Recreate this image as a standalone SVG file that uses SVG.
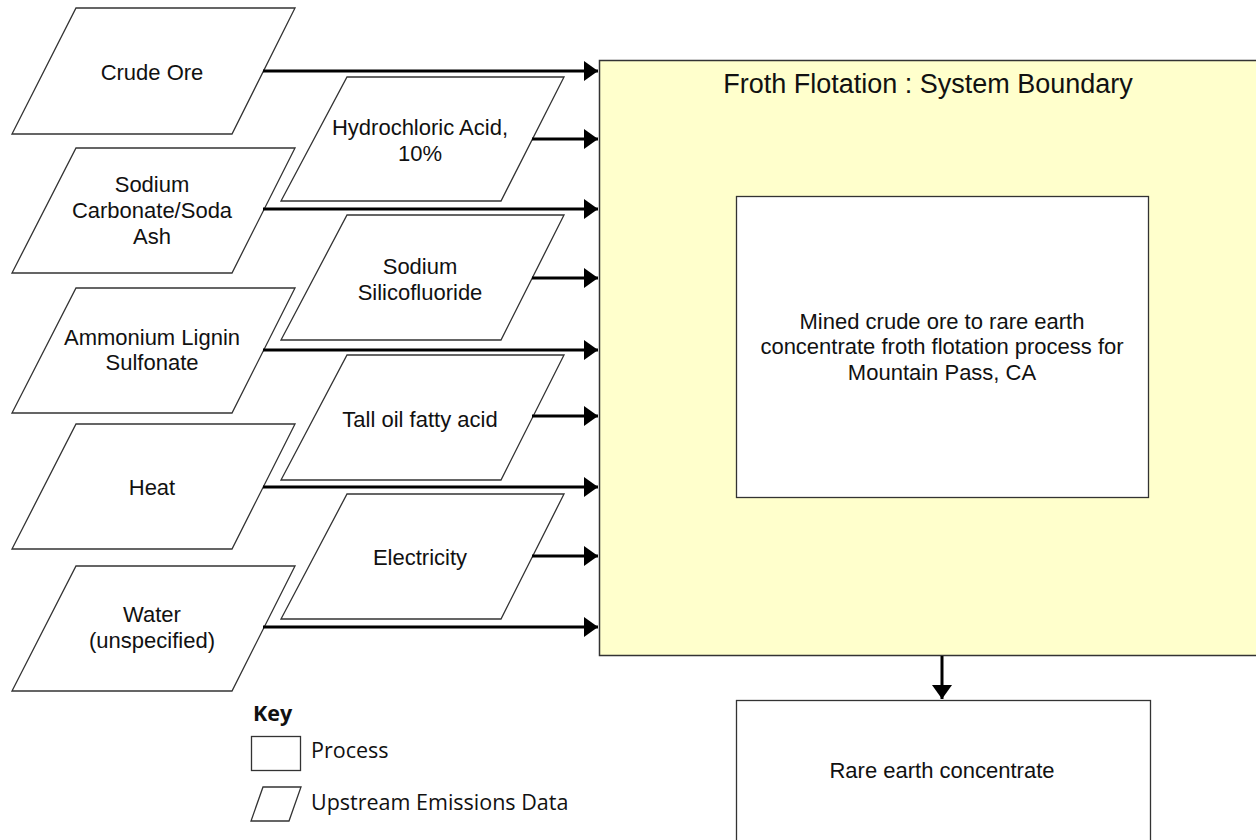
<svg xmlns="http://www.w3.org/2000/svg" width="1256" height="840" viewBox="0 0 1256 840">
<style>
.pg{fill:#fff;stroke:#333;stroke-width:1.3}
.bx{fill:#fff;stroke:#333;stroke-width:1.3}
.t{font-family:"Liberation Sans",Arial,sans-serif;font-size:22px;fill:#111;text-anchor:middle}
.title{font-family:"Liberation Sans",Arial,sans-serif;font-size:27px;fill:#111;text-anchor:middle}
.k{font-family:"Open Sans","Liberation Sans",sans-serif;font-size:21.5px;fill:#111}
.ar{stroke:#000;stroke-width:3;fill:none;marker-end:url(#ah)}
</style>
<defs>
<marker id="ah" markerUnits="userSpaceOnUse" markerWidth="14" markerHeight="20" refX="14" refY="10" orient="auto">
<path d="M0,0 L14,10 L0,20 Z" fill="#000"/>
</marker>
</defs>
<rect width="1256" height="840" fill="#fff"/>

<g id="boundary">
<rect x="599.5" y="60.5" width="700" height="595" fill="#ffffcc" stroke="#333" stroke-width="1.5"/>
<text class="title" x="928" y="93">Froth Flotation : System Boundary</text>
</g>

<g id="process">
<rect class="bx" x="736.5" y="196.5" width="412" height="301"/>
<text class="t" x="942" y="329">Mined crude ore to rare earth</text>
<text class="t" x="942" y="354">concentrate froth flotation process for</text>
<text class="t" x="942" y="380">Mountain Pass, CA</text>
</g>

<g id="product">
<rect class="bx" x="736.5" y="700.5" width="414" height="145"/>
<text class="t" x="942" y="778">Rare earth concentrate</text>
</g>

<g id="crude-ore">
<polygon class="pg" points="76,8 295,8 232,134 12,134"/>
<text class="t" x="152" y="80">Crude Ore</text>
</g>
<g id="sodium-carbonate">
<polygon class="pg" points="76,148 295,148 232,273 12,273"/>
<text class="t" x="152" y="192">Sodium</text>
<text class="t" x="152" y="218">Carbonate/Soda</text>
<text class="t" x="152" y="244">Ash</text>
</g>
<g id="ammonium">
<polygon class="pg" points="76,288 295,288 232,413 12,413"/>
<text class="t" x="152" y="345">Ammonium Lignin</text>
<text class="t" x="152" y="370">Sulfonate</text>
</g>
<g id="heat">
<polygon class="pg" points="76,424 295,424 232,549 12,549"/>
<text class="t" x="152" y="495">Heat</text>
</g>
<g id="water">
<polygon class="pg" points="76,566 295,566 232,691 12,691"/>
<text class="t" x="152" y="622">Water</text>
<text class="t" x="152" y="648">(unspecified)</text>
</g>

<g id="hcl">
<polygon class="pg" points="347,77 564,77 501,201 281,201"/>
<text class="t" x="420" y="135">Hydrochloric Acid,</text>
<text class="t" x="420" y="161">10%</text>
</g>
<g id="silicofluoride">
<polygon class="pg" points="347,215 564,215 501,340 281,340"/>
<text class="t" x="420" y="274">Sodium</text>
<text class="t" x="420" y="300">Silicofluoride</text>
</g>
<g id="tall-oil">
<polygon class="pg" points="347,355 564,355 501,480 281,480"/>
<text class="t" x="420" y="427">Tall oil fatty acid</text>
</g>
<g id="electricity">
<polygon class="pg" points="347,494 564,494 501,619 281,619"/>
<text class="t" x="420" y="565">Electricity</text>
</g>

<g id="connectors">
<line class="ar" x1="263" y1="71" x2="598" y2="71"/>
<line class="ar" x1="532" y1="139" x2="598" y2="139"/>
<line class="ar" x1="263" y1="209" x2="598" y2="209"/>
<line class="ar" x1="532" y1="278" x2="598" y2="278"/>
<line class="ar" x1="263" y1="350" x2="598" y2="350"/>
<line class="ar" x1="532" y1="416" x2="598" y2="416"/>
<line class="ar" x1="263" y1="487" x2="598" y2="487"/>
<line class="ar" x1="532" y1="556" x2="598" y2="556"/>
<line class="ar" x1="263" y1="627" x2="598" y2="627"/>
<line class="ar" x1="942" y1="656" x2="942" y2="699"/>
</g>

<g id="key">
<text class="k" x="253" y="721" font-weight="bold">Key</text>
<rect class="bx" x="251.5" y="736.5" width="49" height="34"/>
<text class="k" x="311" y="758">Process</text>
<polygon class="pg" points="263,787 301,787 289,821 251,821"/>
<text class="k" x="311" y="810">Upstream Emissions Data</text>
</g>
</svg>
